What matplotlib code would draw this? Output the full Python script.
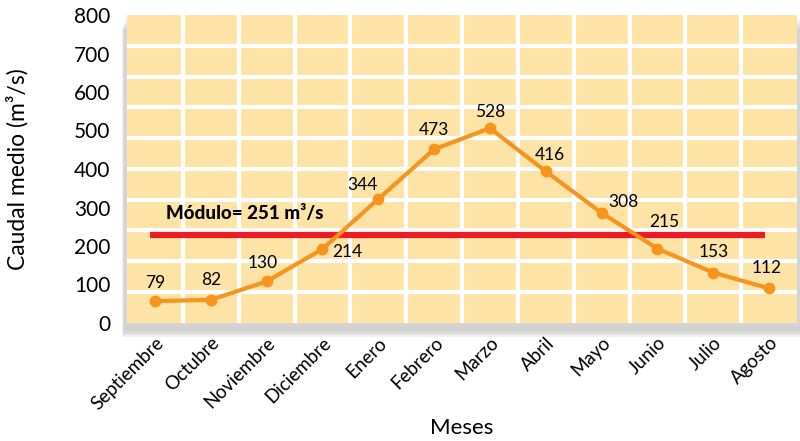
import numpy as np
import matplotlib.pyplot as plt
from matplotlib.patches import Rectangle

# datos: caudal medio mensual (m3/s)
meses = ["Septiembre", "Octubre", "Noviembre", "Diciembre", "Enero", "Febrero",
         "Marzo", "Abril", "Mayo", "Junio", "Julio", "Agosto"]
caudal = [79, 82, 130, 214, 344, 473, 528, 416, 308, 215, 153, 112]
modulo = 251
y_labels = [0, 100, 200, 300, 400, 500, 600, 700, 800]

# desplazamiento de cada etiqueta de valor (puntos)
label_offsets = [(0, 13), (0, 14), (-3, 13), (18, -2), (-11, 10), (0, 14),
                 (0, 12), (3, 12), (16, 8), (5, 19), (0, 15), (-2, 15)]

plt.rcParams['font.family'] = ['Lato', 'DejaVu Sans']

W, H = 800, 441
fig = plt.figure(figsize=(W / 100, H / 100), dpi=100)
L, R, T, B = 127, 797, 15, 323   # bordes del area de trazado en pixeles
ax = fig.add_axes([L / W, 1 - B / H, (R - L) / W, (B - T) / H])

# sombra difusa detras del grafico
for k in range(8):
    g = 0.55 + k * 0.05
    fig.patches.append(Rectangle(((L - 5 + k * 0.5) / W, 1 - (B + 14 - k * 1.6) / H),
                                 (R - L + 10) / W, (B - T) / H,
                                 transform=fig.transFigure, facecolor=str(g),
                                 alpha=0.13, edgecolor='none', zorder=0))

ax.set_facecolor('#FDE3A6')
ax.set_zorder(2)
x = np.arange(len(meses))
ylo, yhi = 23, 822
ax.set_xlim(-0.5, len(meses) - 0.5)
ax.set_ylim(ylo, yhi)

# cuadricula blanca
for yy in np.linspace(ylo, yhi, 11)[1:-1]:
    ax.axhline(yy, color='white', lw=3, zorder=1)
for xx in x[:-1] + 0.5:
    ax.axvline(xx, color='white', lw=3, zorder=1)

# linea del modulo
ax.hlines(modulo, -0.09, 10.93, color='#ED1C24', lw=4.5, zorder=3)
ax.text(0.2, modulo + 55, "Módulo= 251 m³/s", fontsize=13.5, fontweight='black',
        va='center', ha='left', zorder=5)

# caudal medio
ax.plot(x, caudal, color='#F7941D', lw=3, marker='o', markersize=7.5, zorder=4)
for xi, v, off in zip(x, caudal, label_offsets):
    ax.annotate(str(v), (xi, v), xytext=off, textcoords='offset points',
                ha='center', va='center', fontsize=12.5, zorder=5)

for s in ax.spines.values():
    s.set_visible(False)
ax.set_xticks(x)
ax.set_xticklabels(meses, rotation=45, ha='right', rotation_mode='anchor', fontsize=13.5)
ax.set_yticks(np.array(y_labels) + 22)
ax.set_yticklabels([str(v) for v in y_labels], fontsize=15)
ax.tick_params(length=0)
ax.tick_params(axis='y', pad=12)
ax.tick_params(axis='x', pad=8)
ax.set_xlabel("Meses", fontsize=16, labelpad=4)
ax.set_ylabel("Caudal medio (m³/s)", fontsize=16.5, labelpad=33)

fig.savefig("out.png", dpi=100)
